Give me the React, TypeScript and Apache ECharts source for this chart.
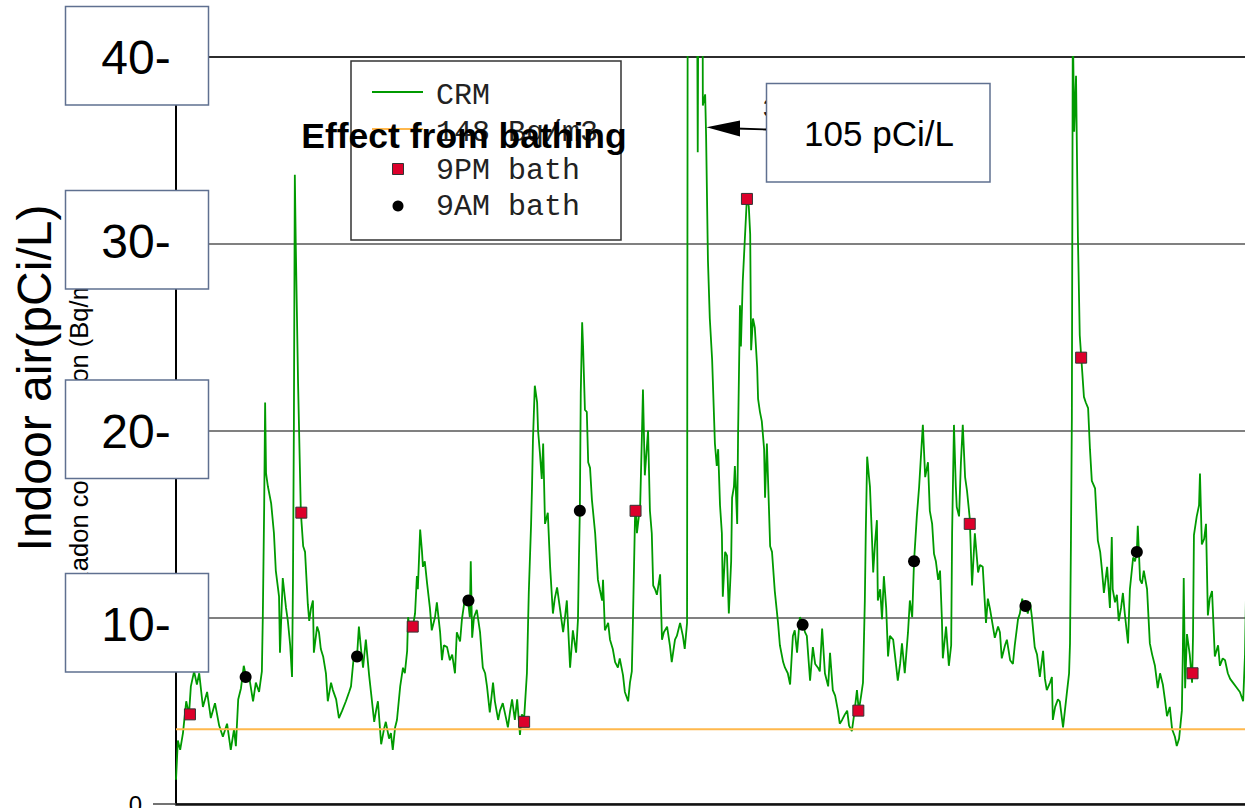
import React, { useEffect, useRef } from "react";
import * as echarts from "echarts";

// ---- data (hours since start, pCi/L) ----
const crmReadings: [number, number][] = [
  [0.0,1.3],[0.4,3.4],[0.9,2.9],[1.5,3.8],[2.2,5.5],[2.8,4.8],[3.2,6.3],[3.9,7.1],[4.5,6.4],[5.0,7.0],
  [5.8,5.2],[6.7,6.0],[7.5,4.6],[8.4,5.4],[9.3,4.2],[10.1,3.6],[11.0,4.3],[11.8,2.9],[12.5,4.0],[12.9,3.1],
  [13.4,5.6],[14.0,6.2],[14.6,7.4],[15.1,6.8],[15.7,6.9],[16.6,5.5],[17.2,6.5],[17.9,6.0],[18.5,7.1],[18.7,10.0],
  [19.0,16.0],[19.2,21.5],[19.4,17.7],[19.8,17.0],[20.5,16.1],[21.1,14.5],[21.5,12.5],[22.2,11.1],[22.4,8.1],[23.0,12.1],
  [23.7,10.5],[24.1,9.8],[24.6,8.5],[25.0,6.8],[25.2,12.0],[25.4,20.4],[25.6,33.7],[25.8,30.0],[26.3,22.5],[26.9,15.6],
  [27.4,13.8],[27.8,13.5],[28.4,10.7],[28.7,9.8],[29.1,10.5],[29.5,10.9],[29.7,8.1],[30.4,9.5],[30.8,9.2],[31.2,8.3],
  [31.7,7.9],[32.3,7.0],[32.7,5.5],[33.4,6.5],[33.8,6.1],[34.5,5.6],[35.1,4.6],[35.8,5.0],[36.6,5.5],[37.3,6.0],
  [37.7,6.3],[38.3,7.9],[39.0,7.9],[39.4,9.5],[39.9,8.2],[40.3,7.3],[40.9,8.8],[41.6,6.9],[42.0,6.0],[42.7,4.4],
  [43.1,5.0],[43.5,5.5],[44.2,3.2],[44.8,4.0],[45.2,4.4],[45.9,3.5],[46.3,3.8],[46.7,2.9],[47.2,4.1],[47.6,4.5],
  [48.3,6.3],[48.9,7.3],[49.3,7.0],[49.8,8.2],[50.0,10.0],[50.4,9.3],[51.1,9.6],[51.5,10.2],[51.9,12.2],[52.1,11.5],
  [52.6,14.7],[53.0,13.5],[53.2,12.7],[53.6,13.0],[54.1,11.8],[54.7,10.5],[55.1,9.3],[55.8,10.0],[56.2,10.8],[56.9,9.2],
  [57.3,7.7],[57.7,8.5],[58.4,8.4],[59.0,7.7],[59.5,8.0],[60.1,7.0],[60.5,9.2],[61.2,8.7],[61.6,9.9],[62.3,11.1],
  [62.9,10.9],[63.3,10.0],[63.5,13.0],[63.8,8.9],[64.2,10.0],[64.8,10.4],[65.5,9.2],[66.1,7.3],[66.6,7.0],[67.0,6.3],
  [67.6,4.9],[68.3,6.5],[68.7,5.5],[69.4,4.5],[69.8,5.0],[70.4,5.4],[71.1,4.6],[71.5,4.1],[72.0,5.0],[72.4,5.6],
  [73.0,4.5],[73.5,5.6],[74.1,3.7],[74.5,4.8],[75.0,4.6],[75.6,7.0],[76.0,11.3],[76.5,15.0],[76.7,17.0],[76.9,19.5],
  [77.3,22.4],[77.8,21.5],[78.0,20.0],[78.4,18.8],[78.8,17.4],[79.1,19.3],[79.5,15.0],[80.1,15.6],[80.6,12.7],[81.2,10.2],
  [81.6,11.0],[82.1,11.6],[82.7,10.5],[83.4,9.2],[83.8,10.0],[84.2,10.9],[84.9,7.3],[85.5,9.3],[86.2,8.1],[86.6,9.9],
  [86.8,13.0],[87.0,15.7],[87.2,22.0],[87.5,25.8],[87.7,24.5],[88.1,21.1],[88.5,21.0],[88.8,18.3],[89.2,18.0],[89.6,16.3],
  [90.3,14.5],[90.9,12.0],[91.3,11.5],[91.8,10.9],[92.0,12.0],[92.4,9.3],[93.1,9.7],[93.5,8.8],[94.1,8.3],[94.6,7.6],
  [95.2,7.3],[95.6,7.8],[96.3,6.9],[96.7,6.0],[97.4,5.5],[97.8,6.5],[98.2,7.1],[98.4,9.3],[98.9,15.5],[99.1,15.9],
  [99.3,14.5],[100.0,16.0],[100.4,20.0],[100.6,22.2],[101.0,17.6],[101.7,20.0],[102.1,15.7],[102.5,14.5],[102.8,11.7],[103.2,11.5],
  [103.6,11.2],[104.3,12.3],[104.7,8.8],[105.1,9.2],[105.8,9.5],[106.4,8.5],[106.8,7.6],[107.5,8.8],[107.9,9.0],[108.6,9.7],
  [109.2,9.0],[109.6,8.3],[110.1,9.7],[110.3,60],[110.7,105],[111.4,100],[112.0,60],[112.4,34.9],[112.9,70],[113.3,60],
  [113.5,37.4],[114.0,38.0],[114.2,35.8],[114.6,29.1],[115.0,26.0],[115.5,23.8],[116.1,19.3],[116.5,18.1],[116.8,19.0],[117.2,16.0],
  [117.6,14.5],[117.8,11.1],[118.3,13.5],[118.7,13.3],[119.1,10.2],[119.6,13.0],[119.8,16.4],[120.2,17.0],[120.4,18.1],[120.9,15.0],
  [121.1,20.0],[121.5,26.7],[121.7,24.5],[122.1,28.0],[122.6,30.5],[123.0,32.5],[123.4,32.0],[123.7,30.5],[123.9,24.3],[124.3,26.0],
  [124.7,25.5],[125.2,23.4],[125.4,21.7],[125.8,21.0],[126.2,20.5],[126.7,19.0],[126.9,16.4],[127.3,19.3],[128.0,13.8],[128.4,13.5],
  [129.0,11.4],[129.7,9.7],[130.1,8.5],[130.8,7.6],[131.2,7.3],[131.8,7.0],[132.3,6.4],[132.9,9.0],[133.3,9.3],[133.8,8.1],
  [134.4,10.0],[135.1,9.7],[135.5,9.2],[135.9,9.0],[136.6,6.6],[137.2,8.4],[137.7,7.5],[138.3,7.3],[138.7,7.1],[139.2,9.4],
  [139.8,7.0],[140.5,6.3],[140.9,8.1],[141.5,6.1],[142.0,5.8],[142.6,5.0],[143.0,4.3],[143.5,4.5],[144.1,4.8],[144.6,5.0],
  [145.0,4.2],[145.6,3.9],[146.1,4.8],[146.7,6.1],[147.1,5.0],[147.6,5.8],[148.0,6.5],[148.4,10.9],[148.6,14.5],[148.9,18.6],
  [149.3,17.5],[149.5,17.0],[149.9,14.5],[150.2,12.4],[150.6,14.0],[151.0,15.2],[151.2,10.9],[151.7,11.5],[152.1,9.9],[152.5,12.2],
  [153.0,10.5],[153.4,7.9],[153.8,9.0],[154.5,8.8],[155.1,7.5],[155.5,6.6],[156.0,7.5],[156.4,8.6],[157.0,7.0],[157.7,9.2],
  [158.1,10.9],[158.6,10.0],[159.0,13.0],[159.6,15.4],[160.1,17.0],[160.7,19.5],[160.9,20.3],[161.4,17.5],[162.0,18.3],[162.4,15.7],
  [162.9,15.0],[163.3,13.4],[163.7,13.0],[164.2,12.0],[164.6,12.5],[165.0,9.9],[165.2,7.8],[165.9,9.5],[166.5,7.4],[167.0,8.5],
  [167.2,14.5],[167.6,20.3],[168.0,17.0],[168.2,15.9],[168.7,15.4],[169.1,18.3],[169.5,20.3],[170.0,17.5],[170.4,16.8],[171.0,15.3],
  [171.5,11.7],[172.1,14.5],[172.8,12.4],[173.2,12.8],[173.8,12.7],[174.5,9.7],[174.9,11.0],[175.4,10.4],[176.0,9.5],[176.4,8.9],
  [177.1,9.5],[177.5,9.2],[177.9,7.8],[178.6,8.5],[179.0,8.8],[179.7,7.7],[180.3,7.5],[180.7,8.5],[181.4,9.9],[181.8,10.2],
  [182.3,11.0],[182.7,10.5],[183.1,10.6],[183.5,10.2],[184.0,10.8],[184.4,10.0],[185.0,8.4],[185.5,8.0],[186.1,6.8],[186.8,8.2],
  [187.2,6.7],[187.6,6.1],[188.3,6.5],[188.7,6.8],[188.9,4.5],[189.4,5.2],[190.0,5.6],[190.4,5.5],[191.1,4.1],[191.5,5.0],
  [191.9,5.9],[192.4,7.0],[192.6,8.6],[192.8,14.0],[193.0,20.7],[193.2,42.0],[193.5,36.0],[193.9,39.0],[194.3,30.4],[194.7,25.1],
  [195.0,24.0],[195.6,21.8],[196.0,21.5],[196.5,21.2],[196.9,19.0],[197.3,17.3],[198.0,16.9],[198.6,14.1],[199.1,13.5],[199.5,12.5],
  [199.9,11.3],[200.6,12.7],[201.2,10.5],[201.6,14.3],[201.8,11.5],[202.3,10.8],[202.7,11.2],[203.1,9.8],[203.6,10.5],[204.0,11.3],
  [204.4,10.2],[205.1,8.6],[205.5,11.5],[206.2,13.2],[206.6,13.0],[207.0,13.5],[207.2,14.9],[207.7,12.0],[208.1,11.8],[208.5,12.5],
  [209.2,11.5],[209.8,8.6],[210.3,8.0],[210.9,7.4],[211.5,6.2],[212.0,7.0],[212.6,6.4],[213.1,5.5],[213.5,4.7],[214.1,5.2],
  [214.6,4.0],[215.2,3.6],[215.6,3.1],[216.1,3.5],[216.7,5.0],[216.9,8.0],[217.1,12.1],[217.4,6.2],[217.8,9.1],[218.4,8.0],
  [218.9,6.5],[219.1,9.0],[219.3,14.4],[219.9,15.4],[220.4,16.0],[220.6,17.7],[221.0,13.9],[221.5,14.2],[221.9,15.0],[222.3,10.1],
  [222.7,11.0],[223.2,11.4],[223.8,7.9],[224.5,8.5],[224.9,7.4],[225.5,7.8],[226.0,7.7],[226.6,7.0],[227.1,6.7],[227.7,6.5],
  [228.6,6.2],[229.2,6.0],[229.9,5.5],[230.3,8.0],[230.5,11.0]
];

const pmBathHours = [3, 27, 51, 75, 99, 123, 147, 171, 195, 219];
const pmBathValues = [4.8, 15.6, 9.5, 4.4, 15.7, 32.4, 5.0, 15.0, 23.9, 7.0];
const amBathHours = [15, 39, 63, 87, 135, 159, 183, 207];
const amBathValues = [6.8, 7.9, 10.9, 15.7, 9.6, 13.0, 10.6, 13.5];
const guidelineHours = [0, 231];
const guidelineValue = 4; // 148 Bq/m3
const tickBoxLabels = ["40-", "30-", "20-", "10-"];
const legendLabels = ["CRM", "148 Bq/m3", "9PM bath", "9AM bath"];
const peakNote = "105 pCi/L";

const X_MAX = 230.3;
const GREEN = "#009a00";
const ORANGE = "#ffb84d";
const RED = "#dc002b";
const BOX = "#5f7090";
const SANS = "Liberation Sans, Arial, sans-serif";
const MONO = "Liberation Mono, Courier New, monospace";

function buildGraphic() {
  const els: any[] = [];
  // y-axis titles
  els.push({
    type: "text", x: 34, y: 378, rotation: Math.PI / 2, z: 50,
    style: { text: "Indoor air(pCi/L)", fontSize: 48, fontFamily: SANS, fill: "#000",
      textAlign: "center", align: "center", textVerticalAlign: "middle", verticalAlign: "middle" },
  });
  els.push({
    type: "text", x: 79, y: 423, rotation: Math.PI / 2, z: 50,
    style: { text: "Radon concentration (Bq/m3)", fontSize: 25.5, fontFamily: SANS, fill: "#000",
      textAlign: "center", align: "center", textVerticalAlign: "middle", verticalAlign: "middle" },
  });
  // tick label boxes
  const tops = [6.5, 190.5, 380, 573.5];
  tickBoxLabels.forEach((lab, i) => {
    els.push({
      type: "rect", z: 100,
      shape: { x: 65.5, y: tops[i], width: 143, height: 98.5 },
      style: { fill: "#fff", stroke: BOX, lineWidth: 1.5 },
    });
    els.push({
      type: "text", x: 136, y: tops[i] + 51, z: 101,
      style: { text: lab, fontSize: 48, fontFamily: SANS, fill: "#000",
        textAlign: "center", align: "center", textVerticalAlign: "middle", verticalAlign: "middle" },
    });
  });
  // legend
  els.push({
    type: "rect", z: 100,
    shape: { x: 351, y: 61, width: 270, height: 179 },
    style: { fill: "#fff", stroke: "#333", lineWidth: 1.5 },
  });
  els.push({ type: "line", z: 101, shape: { x1: 372, y1: 92, x2: 423, y2: 92 }, style: { stroke: GREEN, lineWidth: 2 } });
  els.push({ type: "line", z: 101, shape: { x1: 372, y1: 129, x2: 423, y2: 129 }, style: { stroke: ORANGE, lineWidth: 2 } });
  els.push({ type: "rect", z: 101, shape: { x: 392.5, y: 163.5, width: 11, height: 11 }, style: { fill: RED, stroke: "#333", lineWidth: 1 } });
  els.push({ type: "circle", z: 101, shape: { cx: 398, cy: 206, r: 5.5 }, style: { fill: "#000" } });
  const ly = [96, 133, 171, 207];
  legendLabels.forEach((lab, i) => {
    els.push({
      type: "text", x: 436, y: ly[i], z: 101,
      style: { text: lab, fontSize: 30, fontFamily: MONO, fill: "#222",
        textAlign: "left", align: "left", textVerticalAlign: "middle", verticalAlign: "middle" },
    });
  });
  // title
  els.push({
    type: "text", x: 464, y: 136, z: 110,
    style: { text: "Effect from bathing", fontSize: 35.5, fontWeight: "bold", fontFamily: SANS, fill: "#000",
      textAlign: "center", align: "center", textVerticalAlign: "middle", verticalAlign: "middle" },
  });
  // hidden label behind annotation box
  els.push({
    type: "text", x: 763, y: 108, z: 99,
    style: { text: "3", fontSize: 26, fontFamily: SANS, fill: "#000",
      textAlign: "left", align: "left", textVerticalAlign: "middle", verticalAlign: "middle" },
  });
  // annotation
  els.push({
    type: "rect", z: 100,
    shape: { x: 766.5, y: 83.5, width: 223.5, height: 98.5 },
    style: { fill: "#fff", stroke: BOX, lineWidth: 1.5 },
  });
  els.push({
    type: "text", x: 879, y: 133, z: 101,
    style: { text: peakNote, fontSize: 35, fontFamily: SANS, fill: "#000",
      textAlign: "center", align: "center", textVerticalAlign: "middle", verticalAlign: "middle" },
  });
  els.push({ type: "line", z: 101, shape: { x1: 766, y1: 129.5, x2: 736, y2: 128.5 }, style: { stroke: "#000", lineWidth: 1.8 } });
  els.push({ type: "polygon", z: 101, shape: { points: [[706.5, 127.3], [740, 120.5], [740, 136.5]] }, style: { fill: "#000" } });
  return els;
}

export default function App() {
  const ref = useRef<HTMLDivElement>(null);
  useEffect(() => {
    if (!ref.current) return;
    const chart = echarts.init(ref.current, null, { renderer: "svg" });
    chart.setOption({
      animation: false,
      backgroundColor: "#fff",
      grid: { left: 176, top: 57, width: 1069, height: 747, containLabel: false, outerBoundsMode: "none" },
      xAxis: [
        {
          type: "value", min: 0, max: X_MAX, position: "bottom",
          axisLine: { show: true, onZero: false, lineStyle: { color: "#111", width: 2.5 } },
          axisTick: { show: false }, axisLabel: { show: false }, splitLine: { show: false },
        },
        {
          type: "value", min: 0, max: X_MAX, position: "top",
          axisLine: { show: true, onZero: false, lineStyle: { color: "#111", width: 1.5 } },
          axisTick: { show: false }, axisLabel: { show: false }, splitLine: { show: false },
        },
      ],
      yAxis: {
        type: "value", min: 0, max: 40, interval: 10,
        axisLine: { show: true, onZero: false, lineStyle: { color: "#000", width: 2 } },
        axisTick: { show: true, length: 23, lineStyle: { color: "#444", width: 1.5 } },
        axisLabel: {
          margin: 34, fontSize: 24, fontFamily: SANS, color: "#000",
          formatter: (v: number) => (v === 0 ? "0" : ""),
        },
        splitLine: { show: true, lineStyle: { color: "#808080", width: 1.8 } },
      },
      series: [
        {
          name: "CRM", type: "line", xAxisIndex: 0, data: crmReadings,
          showSymbol: false, symbol: "none", clip: true, silent: true, z: 2,
          lineStyle: { color: GREEN, width: 1.8 },
        },
        {
          name: "148 Bq/m3", type: "line", xAxisIndex: 0,
          data: guidelineHours.map((h) => [h, guidelineValue]),
          showSymbol: false, symbol: "none", clip: true, silent: true, z: 3,
          lineStyle: { color: ORANGE, width: 2 },
        },
        {
          name: "9PM bath", type: "scatter", xAxisIndex: 0,
          data: pmBathHours.map((h, i) => [h, pmBathValues[i]]),
          symbol: "rect", symbolSize: 11, silent: true, z: 5,
          itemStyle: { color: RED, borderColor: "#333", borderWidth: 1, opacity: 1 },
        },
        {
          name: "9AM bath", type: "scatter", xAxisIndex: 0,
          data: amBathHours.map((h, i) => [h, amBathValues[i]]),
          symbol: "circle", symbolSize: 12, silent: true, z: 5,
          itemStyle: { color: "#000", opacity: 1 },
        },
      ],
      graphic: { elements: buildGraphic() },
    });
    return () => chart.dispose();
  }, []);
  return (
    <div
      ref={ref}
      style={{ position: "fixed", left: 0, top: 0, width: 1245, height: 808, background: "#fff" }}
    />
  );
}
